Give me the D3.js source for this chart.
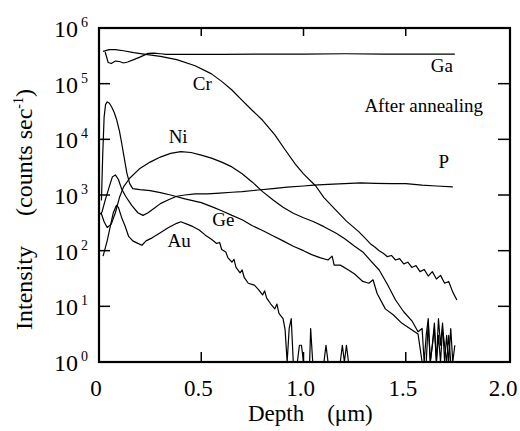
<!DOCTYPE html>
<html lang="en">
<head>
<meta charset="UTF-8">
<title>Depth profile after annealing</title>
<script src="https://d3js.org/d3.v7.min.js"></script>
<style>
  body { margin: 0; background: #fff; }
  text { font-family: "Liberation Serif", "Times New Roman", serif; fill: #000; }
</style>
</head>
<body>
<svg id="chart"></svg>
<script>
// depth (um), counts/sec; zero counts are drawn on the 10^0 floor
const gaData = [[0.03,3.7e5],[0.045,2.4e5],[0.06,2.3e5],[0.08,2.55e5],[0.1,2.5e5],[0.12,2.35e5],[0.14,2.45e5],[0.17,2.7e5],[0.2,3.0e5],[0.24,3.5e5],[0.27,3.55e5],[0.3,3.45e5],[0.33,3.35e5],[0.4,3.35e5],[0.6,3.35e5],[0.8,3.4e5],[1.0,3.4e5],[1.2,3.45e5],[1.4,3.4e5],[1.6,3.4e5],[1.74,3.4e5]];
const crData = [[0.02,3.8e5],[0.05,4.1e5],[0.08,4.1e5],[0.12,3.9e5],[0.17,3.6e5],[0.22,3.4e5],[0.3,3.1e5],[0.38,2.7e5],[0.47,2.1e5],[0.55,1.5e5],[0.6,1.1e5],[0.65,7.7e4],[0.7,5e4],[0.75,3.3e4],[0.8,2.2e4],[0.86,1.2e4],[0.91,6.5e3],[0.96,3.6e3],[1.0,2.4e3],[1.06,1.45e3],[1.1,900],[1.157,540],[1.21,340],[1.27,220],[1.3,170],[1.33,130],[1.35,115],[1.37,100],[1.39,90],[1.41,78],[1.43,82],[1.45,68],[1.47,72],[1.49,58],[1.51,62],[1.53,50],[1.55,54],[1.57,42],[1.59,46],[1.61,35],[1.63,42],[1.65,31],[1.67,36],[1.69,26],[1.71,28],[1.73,18],[1.75,13]];
const niData = [[0.01,480],[0.025,330],[0.04,260],[0.06,300],[0.08,480],[0.1,900],[0.12,1.4e3],[0.15,2.0e3],[0.2,3.0e3],[0.25,3.9e3],[0.3,4.8e3],[0.35,5.6e3],[0.4,6.0e3],[0.45,5.8e3],[0.5,5.2e3],[0.55,4.6e3],[0.6,3.9e3],[0.65,3.2e3],[0.7,2.4e3],[0.75,1.7e3],[0.8,1.15e3],[0.85,820],[0.9,600],[0.95,470],[1.0,390],[1.05,330],[1.1,270],[1.16,205],[1.2,165],[1.25,120],[1.29,95],[1.33,65],[1.37,45],[1.41,25],[1.45,13],[1.49,8],[1.53,5.5],[1.56,3.5],[1.58,4],[1.59,1],[1.6,3],[1.61,6],[1.62,1],[1.63,2],[1.64,5],[1.65,1],[1.66,3],[1.67,1],[1.68,4],[1.69,2],[1.7,1],[1.71,3],[1.72,1]];
const geData = [[0.012,800],[0.018,5e3],[0.025,2.5e4],[0.032,4.2e4],[0.04,4.7e4],[0.05,4.5e4],[0.062,3.8e4],[0.075,3e4],[0.087,2.2e4],[0.1,1.4e4],[0.111,8.5e3],[0.124,4.5e3],[0.136,2.5e3],[0.15,1.6e3],[0.165,1.3e3],[0.2,1.25e3],[0.25,1.2e3],[0.3,1.1e3],[0.35,1.0e3],[0.42,850],[0.5,730],[0.56,600],[0.6,520],[0.65,430],[0.7,360],[0.75,280],[0.8,230],[0.85,185],[0.9,150],[0.95,120],[1.0,100],[1.04,85],[1.08,75],[1.12,68],[1.14,80],[1.15,55],[1.18,55],[1.22,45],[1.25,38],[1.29,28],[1.32,26],[1.34,30],[1.36,17],[1.4,9],[1.44,7],[1.48,5],[1.52,4],[1.56,3.2],[1.58,1],[1.6,1],[1.61,5],[1.62,1],[1.64,4],[1.65,1],[1.66,6],[1.67,2],[1.68,5],[1.69,1],[1.7,3],[1.71,1],[1.72,4],[1.73,1],[1.74,2]];
const pData = [[0.005,450],[0.015,500],[0.03,800],[0.05,1.4e3],[0.065,2.1e3],[0.08,2.3e3],[0.095,1.9e3],[0.11,1.3e3],[0.13,950],[0.16,650],[0.19,480],[0.215,430],[0.24,480],[0.27,580],[0.3,700],[0.34,820],[0.38,950],[0.42,1.0e3],[0.47,1.05e3],[0.53,1.05e3],[0.59,1.08e3],[0.65,1.12e3],[0.7,1.15e3],[0.78,1.23e3],[0.85,1.3e3],[0.92,1.38e3],[1.0,1.45e3],[1.05,1.5e3],[1.12,1.55e3],[1.2,1.6e3],[1.28,1.65e3],[1.35,1.62e3],[1.43,1.6e3],[1.5,1.6e3],[1.58,1.5e3],[1.65,1.45e3],[1.73,1.4e3]];
const auData = [[0.02,80],[0.04,150],[0.055,270],[0.07,480],[0.085,650],[0.095,600],[0.11,400],[0.127,280],[0.145,180],[0.165,150],[0.19,135],[0.21,125],[0.23,150],[0.26,170],[0.3,210],[0.34,260],[0.38,310],[0.4,330],[0.43,300],[0.46,270],[0.49,235],[0.52,190],[0.55,160],[0.575,135],[0.59,140],[0.6,105],[0.62,95],[0.63,75],[0.65,62],[0.66,70],[0.67,50],[0.69,40],[0.7,45],[0.71,33],[0.73,26],[0.76,24],[0.78,20],[0.8,16],[0.81,19],[0.82,14],[0.84,11],[0.86,9],[0.87,11],[0.88,7.5],[0.9,6],[0.91,3.8],[0.92,1],[0.93,4],[0.94,6],[0.95,1],[0.97,1],[0.98,2],[0.99,2],[1.0,1],[1.03,1],[1.035,4],[1.045,1],[1.1,1],[1.11,2],[1.12,1],[1.18,1],[1.19,2],[1.2,1],[1.21,2],[1.22,1],[1.23,1]];

const series = [gaData, crData, niData, geData, pData, auData];

const xTicks = [0, 0.5, 1.0, 1.5, 2.0];
const xTickLabels = ["0", "0.5", "1.0", "1.5", "2.0"];
const yExponents = [0, 1, 2, 3, 4, 5, 6];

// label anchors in data coordinates
const labels = [
  { text: "Ga", d: 1.676, v: 1.62e5 },
  { text: "After annealing", d: 1.588, v: 3.1e4 },
  { text: "P", d: 1.686, v: 3.05e3 },
  { text: "Cr", d: 0.505, v: 7.7e4 },
  { text: "Ni", d: 0.387, v: 8.6e3 },
  { text: "Ge", d: 0.608, v: 277 },
  { text: "Au", d: 0.392, v: 116 }
];

const W = 520, H = 431;
const plotL = 99, plotR = 510, plotT = 28, plotB = 362;

const svg = d3.select("#chart")
  .attr("width", W).attr("height", H)
  .attr("font-family", "'Liberation Serif', 'Times New Roman', serif");

const x = d3.scaleLinear().domain([0, 2]).range([plotL, 508]);
const y = d3.scaleLog().domain([1, 1e6]).range([plotB, plotT]);

const line = d3.line()
  .x(d => x(d[0]))
  .y(d => y(Math.max(1, d[1])));

svg.append("g")
  .selectAll("path")
  .data(series)
  .enter()
  .append("path")
  .attr("d", line)
  .attr("fill", "none")
  .attr("stroke", "#000")
  .attr("stroke-width", 1.2)
  .attr("stroke-linejoin", "round");

// ticks (inside)
const tickG = svg.append("g").attr("stroke", "#000").attr("stroke-width", 1.5);
xTicks.slice(1, 4).forEach(t => {
  tickG.append("line").attr("x1", x(t)).attr("x2", x(t)).attr("y1", plotB).attr("y2", plotB - 10);
  tickG.append("line").attr("x1", x(t)).attr("x2", x(t)).attr("y1", plotT).attr("y2", plotT + 8);
});
yExponents.slice(1, 6).forEach(e => {
  tickG.append("line").attr("x1", plotL).attr("x2", plotL + 11).attr("y1", y(Math.pow(10, e))).attr("y2", y(Math.pow(10, e)));
  tickG.append("line").attr("x1", plotR).attr("x2", plotR - 12).attr("y1", y(Math.pow(10, e))).attr("y2", y(Math.pow(10, e)));
});

// frame
svg.append("rect")
  .attr("x", plotL).attr("y", plotT)
  .attr("width", plotR - plotL).attr("height", plotB - plotT)
  .attr("fill", "none").attr("stroke", "#000").attr("stroke-width", 2.2);

// y tick labels 10^n
const yl = svg.append("g").selectAll("g").data(yExponents).enter().append("g");
yl.append("text")
  .attr("x", 78).attr("y", e => y(Math.pow(10, e)) + 9)
  .attr("text-anchor", "end").style("font-size", "24px")
  .text("10");
yl.append("text")
  .attr("x", 81).attr("y", e => y(Math.pow(10, e)) - 1)
  .style("font-size", "14px")
  .text(e => e);

// x tick labels
svg.append("g").selectAll("text").data(xTicks).enter().append("text")
  .attr("x", d => Math.min(x(d) - 3, 503)).attr("y", 396)
  .attr("text-anchor", "middle").style("font-size", "23px")
  .text((d, i) => xTickLabels[i]);

// axis titles
svg.append("text")
  .attr("x", 248).attr("y", 421)
  .style("font-size", "23px")
  .attr("xml:space", "preserve")
  .text("Depth    (\u03bcm)");

const yt = svg.append("text")
  .attr("transform", "translate(32,330) rotate(-90)")
  .style("font-size", "24px")
  .attr("xml:space", "preserve");
yt.append("tspan").text("Intensity     (counts sec");
yt.append("tspan").attr("dy", -9).style("font-size", "14px").text("-1");
yt.append("tspan").attr("dy", 9).text(")");

// curve labels
svg.append("g").selectAll("text").data(labels).enter().append("text")
  .attr("x", d => x(d.d)).attr("y", d => y(d.v))
  .attr("text-anchor", "middle").style("font-size", "19px")
  .text(d => d.text);
</script>
</body>
</html>
